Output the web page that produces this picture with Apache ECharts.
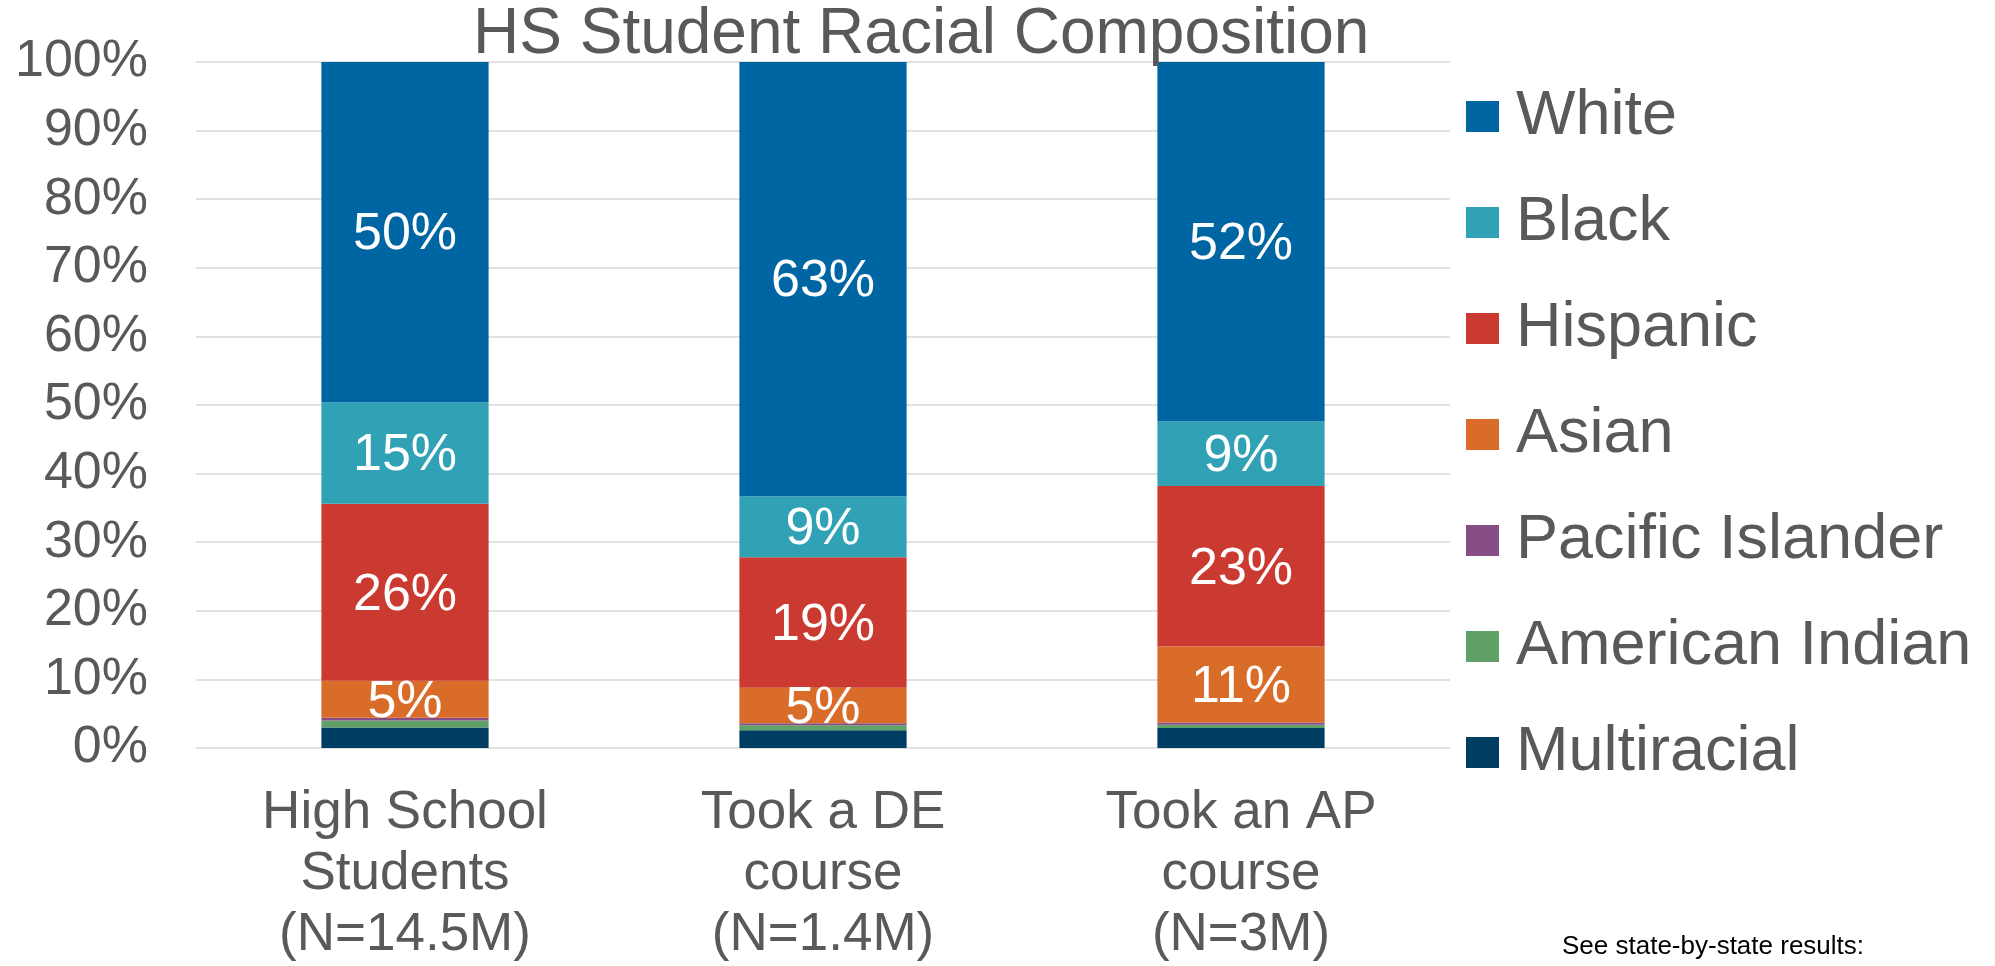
<!DOCTYPE html>
<html>
<head>
<meta charset="utf-8">
<script src="https://cdn.jsdelivr.net/npm/echarts@6/dist/echarts.min.js"></script>
<style>
html,body{margin:0;padding:0;background:#fff;}
#chart{width:1995px;height:966px;}
</style>
</head>
<body>
<div id="chart"></div>
<script>
var categories = ['High School\nStudents\n(N=14.5M)', 'Took a DE\ncourse\n(N=1.4M)', 'Took an AP\ncourse\n(N=3M)'];
var multiracial = [3.0, 2.6, 2.9];
var americanIndian = [1.0, 0.7, 0.5];
var pacificIslander = [0.4, 0.3, 0.3];
var asian = [5.4, 5.2, 11.1];
var hispanic = [25.8, 19.0, 23.4];
var black = [14.8, 8.9, 9.4];
var white = [49.6, 63.3, 52.4];
var yTicks = [0, 10, 20, 30, 40, 50, 60, 70, 80, 90, 100];
var legendOrder = ['White', 'Black', 'Hispanic', 'Asian', 'Pacific Islander', 'American Indian', 'Multiracial'];

var FONT = '"Liberation Sans", Arial, sans-serif';
var GREY = '#595959';

function mk(name, data, color, showLabel) {
  return {
    name: name, type: 'bar', stack: 'total', data: data, barWidth: '40%',
    itemStyle: { color: color },
    label: {
      show: showLabel, position: 'inside', color: '#fff', fontSize: 52, fontFamily: FONT,
      offset: [0, 3],
      formatter: function (p) { return Math.round(p.value) + '%'; }
    },
    emphasis: { disabled: true }
  };
}

var chart = echarts.init(document.getElementById('chart'));
chart.setOption({
  animation: false,
  backgroundColor: '#fff',
  title: {
    text: 'HS Student Racial Composition', left: 473, top: 3, padding: 0,
    textStyle: { color: GREY, fontSize: 64, fontWeight: 'normal', fontFamily: FONT, lineHeight: 64 }
  },
  legend: {
    orient: 'vertical', left: 1466, top: 85, padding: 0,
    data: legendOrder, icon: 'rect', itemWidth: 33, itemHeight: 31, itemGap: 43,
    selectedMode: false,
    textStyle: { color: GREY, fontSize: 63, fontFamily: FONT, lineHeight: 63, padding: [0, 0, 0, 12] }
  },
  grid: { left: 196, right: 545, top: 62, bottom: 966 - 754, containLabel: false },
  xAxis: {
    type: 'category', data: categories,
    axisLine: { show: false }, axisTick: { show: false },
    axisLabel: { color: GREY, fontSize: 53, fontFamily: FONT, lineHeight: 61, margin: 35, interval: 0 }
  },
  yAxis: {
    type: 'value', min: yTicks[0], max: yTicks[yTicks.length - 1], interval: yTicks[1] - yTicks[0],
    axisLine: { show: false }, axisTick: { show: false },
    splitLine: { lineStyle: { color: '#D9D9D9', width: 1.5 } },
    axisLabel: { color: GREY, fontSize: 52, fontFamily: FONT, margin: 48, formatter: '{value}%' }
  },
  graphic: [{
    type: 'text', left: 1562, top: 934,
    style: { text: 'See state-by-state results:', fill: '#000', font: '26px "Liberation Sans", Arial, sans-serif' }
  }],
  series: [
    mk('Multiracial', multiracial, '#003D63', false),
    mk('American Indian', americanIndian, '#5FA167', false),
    mk('Pacific Islander', pacificIslander, '#874D86', false),
    mk('Asian', asian, '#DA6C2A', true),
    mk('Hispanic', hispanic, '#CB3A31', true),
    mk('Black', black, '#31A2B6', true),
    mk('White', white, '#0066A3', true)
  ]
});
</script>
</body>
</html>
